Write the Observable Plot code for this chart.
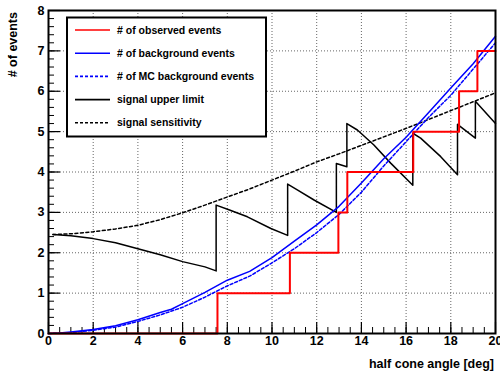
<!DOCTYPE html>
<html>
<head>
<meta charset="utf-8">
<script src="https://cdn.jsdelivr.net/npm/d3@7"></script>
<script src="https://cdn.jsdelivr.net/npm/@observablehq/plot@0.6"></script>
<style>
  body { margin: 0; background: #fff; }
  svg { display: block; }
</style>
</head>
<body>
<div id="chart"></div>
<script>
// ---- data ----
const xTicks = [0, 2, 4, 6, 8, 10, 12, 14, 16, 18, 20];
const yTicks = [0, 1, 2, 3, 4, 5, 6, 7, 8];

// observed events: step edges and counts
const obsX = [0, 7.56, 10.8, 12.97, 13.37, 16.32, 18.37, 19.19, 20];
const obsY = [0, 1, 2, 3, 4, 5, 6, 7, 7];

// background events (solid blue)
const bgX = [0, 0.5, 1, 2, 3, 4, 5, 5.5, 6, 7, 8, 9, 10, 11, 12, 13, 14, 15, 16, 17, 18, 19, 20];
const bgY = [0, 0.01, 0.04, 0.1, 0.19, 0.34, 0.52, 0.6, 0.74, 1.02, 1.32, 1.54, 1.88, 2.29, 2.69, 3.15, 3.73, 4.33, 4.86, 5.47, 6.08, 6.68, 7.36];

// MC background events (dashed blue)
const mcX = [0, 1, 2, 3, 4, 5, 6, 7, 8, 9, 10, 11, 12, 13, 14, 15, 16, 17, 18, 19, 20];
const mcY = [0, 0.02, 0.08, 0.16, 0.3, 0.46, 0.65, 0.9, 1.18, 1.42, 1.75, 2.1, 2.5, 2.95, 3.5, 4.15, 4.75, 5.35, 5.9, 6.55, 7.2];

// signal upper limit (solid black, jumps where observed count increases)
const ulX = [0.2, 1, 2, 3, 4, 5, 6, 7, 7.5, 7.5, 8.1, 8.9, 9.95, 10.7, 10.7, 11.15, 11.9, 12.88, 12.88, 13.35, 13.35, 13.82, 14.56, 15.31, 16.3, 16.3, 16.65, 17.55, 18.3, 18.3, 19.1, 19.1, 20];
const ulY = [2.45, 2.42, 2.35, 2.25, 2.1, 1.95, 1.78, 1.65, 1.55, 3.18, 3.06, 2.89, 2.6, 2.43, 3.7, 3.55, 3.3, 3.0, 4.21, 4.13, 5.2, 5.04, 4.67, 4.22, 3.67, 4.96, 4.84, 4.38, 3.93, 5.18, 4.84, 5.75, 5.2];

// signal sensitivity (dashed black)
const sensX = [0.2, 1, 2, 3, 4, 5, 6, 7, 8, 9, 10, 11, 12, 13, 14, 15, 16, 17, 18, 19, 20];
const sensY = [2.45, 2.47, 2.52, 2.59, 2.68, 2.82, 2.99, 3.18, 3.38, 3.58, 3.8, 4.02, 4.25, 4.45, 4.66, 4.87, 5.08, 5.3, 5.52, 5.74, 5.96];

const legendItems = [
  {label: "# of observed events", color: "#ff0000", dash: null},
  {label: "# of background events", color: "#0000ff", dash: null},
  {label: "# of MC background events", color: "#0000ff", dash: "3,2"},
  {label: "signal upper limit", color: "#000000", dash: null},
  {label: "signal sensitivity", color: "#000000", dash: "3,2"}
];

const xMinor = d3.range(0, 20.001, 0.5);
const yMinor = d3.range(0, 8.001, 0.2).map(v => +v.toFixed(1));

const zip = (xs, ys) => xs.map((x, i) => ({x, y: ys[i]}));
const obs = zip(obsX, obsY), bg = zip(bgX, bgY), mc = zip(mcX, mcY), ul = zip(ulX, ulY), sens = zip(sensX, sensY);

const font = "'Liberation Sans', Arial, Helvetica, sans-serif";

const chart = Plot.plot({
  width: 500,
  height: 373,
  marginLeft: 48,
  marginRight: 5,
  marginTop: 10,
  marginBottom: 40,
  style: {fontFamily: font, fontWeight: "bold", fontSize: "12px", background: "#fff"},
  x: {domain: [0, 20]},
  y: {domain: [0, 8]},
  marks: [
    Plot.gridX(xTicks.slice(1, -1), {stroke: "#555", strokeOpacity: 0.9, strokeDasharray: "1,2"}),
    Plot.gridY(yTicks.slice(1, -1), {stroke: "#555", strokeOpacity: 0.9, strokeDasharray: "1,2"}),
    // minor ticks inside
    Plot.axisX({ticks: xMinor, tickSize: 6, dy: -6, tickFormat: () => "", label: null, strokeWidth: 1}),
    Plot.axisY({ticks: yMinor, tickSize: 6, dx: 6, tickFormat: () => "", label: null, strokeWidth: 1}),
    // major ticks inside
    Plot.axisX({ticks: xTicks, tickSize: 11, dy: -11, tickFormat: () => "", label: null, strokeWidth: 1.2}),
    Plot.axisY({ticks: yTicks, tickSize: 12, dx: 12, tickFormat: () => "", label: null, strokeWidth: 1.2}),
    // labels
    Plot.axisX({ticks: xTicks, tickSize: 0, tickPadding: 3, label: null, fontWeight: "bold", fontSize: 12.5}),
    Plot.axisY({ticks: yTicks, tickSize: 0, tickPadding: 4, label: null, fontWeight: "bold", fontSize: 12.5}),
    // data
    Plot.line(sens, {x: "x", y: "y", stroke: "#000", strokeWidth: 1.5, strokeDasharray: "3,2.5"}),
    Plot.line(ul, {x: "x", y: "y", stroke: "#000", strokeWidth: 1.5}),
    Plot.line(mc, {x: "x", y: "y", stroke: "#0000ff", strokeWidth: 1.5, strokeDasharray: "3,2"}),
    Plot.line(bg, {x: "x", y: "y", stroke: "#0000ff", strokeWidth: 1.5}),
    Plot.line(obs, {x: "x", y: "y", stroke: "#ff0000", strokeWidth: 2, curve: "step-after"}),
    Plot.frame({stroke: "#000", strokeWidth: 2})
  ]
});

document.getElementById("chart").append(chart);

const svg = d3.select(chart);

// legend box
const lg = svg.append("g").attr("font-family", font).attr("font-weight", "bold").attr("font-size", "10.5px").attr("text-anchor", "start");
lg.append("rect").attr("x", 67).attr("y", 17.5).attr("width", 199).attr("height", 119)
  .attr("fill", "#fff").attr("stroke", "#000").attr("stroke-width", 2);
legendItems.forEach((d, i) => {
  const y = 30 + i * 23.2;
  lg.append("line").attr("x1", 75).attr("x2", 110).attr("y1", y).attr("y2", y)
    .attr("stroke", d.color).attr("stroke-width", 1.6).attr("stroke-dasharray", d.dash);
  lg.append("text").attr("x", 117).attr("y", y).attr("dy", "0.35em").attr("fill", "#000")
    .attr("text-anchor", "start").text(d.label);
});

// axis titles
svg.append("text").attr("x", 494).attr("y", 368).attr("text-anchor", "end")
  .attr("font-family", font).attr("font-weight", "bold").attr("font-size", "12.5px").text("half cone angle [deg]");
svg.append("text").attr("transform", "translate(17,12) rotate(-90)").attr("text-anchor", "end")
  .attr("font-family", font).attr("font-weight", "bold").attr("font-size", "12.5px").text("# of events");
</script>
</body>
</html>
